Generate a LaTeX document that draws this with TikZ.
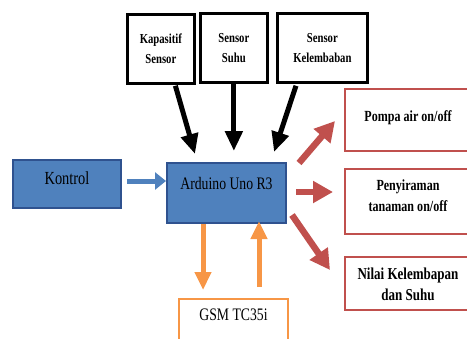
\documentclass[tikz,border=0pt]{standalone}
\usepackage{fontspec}
\setmainfont[FakeStretch=0.78]{Liberation Serif}
\usepackage{tikz}
\usetikzlibrary{calc,arrows.meta}
\definecolor{birukotak}{RGB}{79,129,189}
\definecolor{birutepi}{RGB}{47,82,143}
\definecolor{merahbata}{RGB}{192,80,77}
\definecolor{oranye}{RGB}{247,150,70}

\begin{document}
\begin{tikzpicture}[x=0.2mm,y=-0.2mm]
        \tikzset{
          kotak/.style={
            draw,anchor=north west,align=center,
            inner xsep=0pt,inner ysep=0pt,text=black,
          },
          kotak sensor/.style={kotak,line width=0.55mm,fill=white,
            minimum width=13.4mm,text height=9.8mm,text depth=4mm,
            font=\fontsize{7.8}{11.4}\selectfont\bfseries},
          kotak biru/.style={kotak,fill=birukotak,draw=birutepi,line width=0.4mm,
            font=\fontsize{10}{12}\selectfont},
          kotak merah/.style={kotak,draw=merahbata,line width=0.4mm,
            minimum width=25.2mm,font=\fontsize{8.8}{11.4}\selectfont\bfseries},
          kotak oranye/.style={kotak,draw=oranye,line width=0.4mm,
            font=\fontsize{10}{12}\selectfont},
          panah/.style={-{Triangle[length=4mm,width=3.4mm]},line width=1mm},
          panah biru/.style={panah,draw=birukotak,-{Triangle[length=2.2mm,width=3.4mm]}},
          panah merah/.style={panah,draw=merahbata,line width=1.3mm,
            -{Triangle[length=4mm,width=4.2mm]}},
          panah oranye/.style={panah,draw=oranye,-{Triangle[length=3.6mm,width=3.2mm]}},
          }
        \clip (0,0) rectangle (467,338);
        % sensor di atas
        \node[kotak sensor] (kap) at (126,13) {Kapasitif\\Sensor};
        \node[kotak sensor] (suhu) at (199,12) {Sensor\\Suhu};
        \node[kotak sensor, minimum width=18mm] (kel) at (276,12) {Sensor\\Kelembaban};
        % blok utama
        \node[kotak biru, minimum width=21.6mm, text height=4.8mm, text depth=4.8mm,
          font=\fontsize{10.5}{12}\selectfont] (kontrol) at (12,159) {Kontrol};
        \node[kotak biru, minimum width=23.8mm, text height=5.2mm, text depth=6.8mm] (ard) at (166,162) {Arduino Uno R3};
        \node[kotak oranye, minimum width=21.8mm, text height=4.2mm, text depth=9mm] (gsm) at (178,298) {GSM TC35i};
        % keluaran
        \node[kotak merah, text height=6.4mm, text depth=6mm] (pompa) at (344,88) {Pompa air on/off};
        \node[kotak merah, text height=8.4mm, text depth=4.6mm] (peny) at (344,168) {Penyiraman\\tanaman on/off};
        \node[kotak merah, text height=8.6mm, text depth=2mm,
          font=\fontsize{9.5}{11.4}\selectfont\bfseries] (nilai) at (344,256) {Nilai Kelembapan\\dan Suhu};

        \draw[panah biru] ($(kontrol.east)+(5,-3)$) -- ($(kontrol.east -| ard.west)+(0,-3)$);
        \draw[panah] ($(kap.south)+(14.5,1)$) -- ($(ard.north west)+(29,-8)$);
        \draw[panah] (suhu.south) -- ($(suhu.south |- ard.north)+(0,-11)$);
        \draw[panah] ($(kel.south west)+(20,2)$) -- ($(ard.north east)+(-13,-10)$);
        \draw[panah merah] ($(ard.north east)+(12,1)$) -- ($(pompa.west)+(-9,1)$);
        \draw[panah merah] ($(ard.east)+(9,-1)$) -- ($(ard.east -| peny.west)+(-11,-1)$);
        \draw[panah merah] ($(ard.south east)+(5,-9)$) -- ($(nilai.north west)+(-14,14)$);
        \draw[panah oranye] ($(ard.south west)+(37,0)$) -- ($(gsm.north west)+(25,-8)$);
        \draw[panah oranye] ($(gsm.north west)+(81,-11)$) -- ($(ard.south west)+(93,-3)$);
      \end{tikzpicture}
\end{document}
